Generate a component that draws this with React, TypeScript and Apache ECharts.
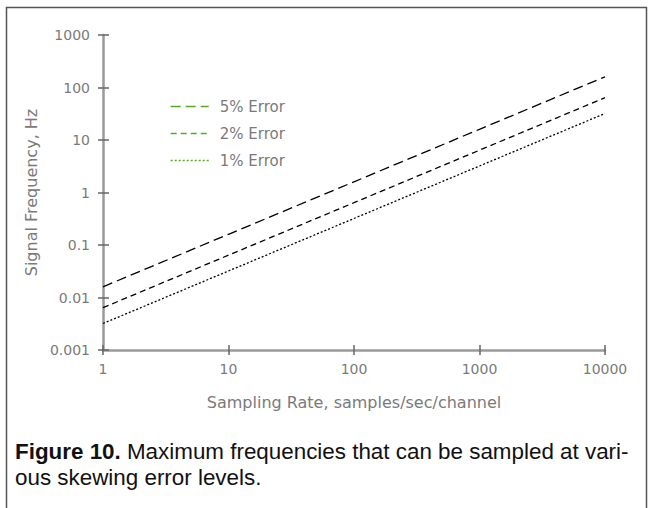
import React, { useEffect, useRef } from "react";
import * as echarts from "echarts";

const samplingRates = [1, 10, 100, 1000, 10000];
const error5 = [0.016, 0.16, 1.6, 16, 160];
const error2 = [0.0064, 0.064, 0.64, 6.4, 64];
const error1 = [0.0032, 0.032, 0.32, 3.2, 32];
const seriesNames = ["5% Error", "2% Error", "1% Error"];
const xTickLabels = ["1", "10", "100", "1000", "10000"];
const yTickLabels = ["0.001", "0.01", "0.1", "1", "10", "100", "1000"];
const captionBold = "Figure 10.";
const captionText = " Maximum frequencies that can be sampled at vari-\nous skewing error levels.";

const FONT = "'DejaVu Sans', Verdana, sans-serif";
const CAPTION_FONT = "'Liberation Sans', Arial, Helvetica, sans-serif";
const AXIS_GRAY = "#9a9a9a";
const LABEL_GRAY = "#7a7a7a";
const LEGEND_GREEN = "#5aaa1e";

function labelFor(list: string[], v: number) {
  const hit = list.find((s) => Math.abs(Math.log10(parseFloat(s)) - Math.log10(v)) < 1e-6);
  return hit ?? "";
}

export default function App() {
  const ref = useRef<HTMLDivElement>(null);
  useEffect(() => {
    if (!ref.current) return;
    const chart = echarts.init(ref.current, null, { renderer: "svg" });
    const pairs = (ys: number[]) => samplingRates.map((x, i) => [x, ys[i]]);
    const dashes = [[10, 5], [6, 4], [2, 2]];
    const datasets = [error5, error2, error1];
    const baseX = {
      type: "log" as const,
      logBase: 10,
      min: 1,
      max: 10000,
      gridIndex: 0,
      position: "bottom" as const,
      splitLine: { show: false },
    };
    const baseY = {
      type: "log" as const,
      logBase: 10,
      min: 0.001,
      max: 1000,
      gridIndex: 0,
      position: "left" as const,
      splitLine: { show: false },
    };
    const tickStyle = { color: "#666", width: 1.5 };
    chart.setOption({
      animation: false,
      backgroundColor: "#fff",
      grid: { left: 103, right: 43, top: 35, bottom: 158, containLabel: false },
      xAxis: [
        {
          ...baseX,
          name: "Sampling Rate, samples/sec/channel",
          nameLocation: "middle",
          nameGap: 44,
          nameTextStyle: { color: LABEL_GRAY, fontSize: 16, fontFamily: FONT },
          axisLine: { show: true, lineStyle: { color: AXIS_GRAY, width: 2.5 } },
          axisTick: { show: true, length: 5, lineStyle: tickStyle },
          axisLabel: {
            color: LABEL_GRAY,
            fontSize: 14,
            fontFamily: FONT,
            margin: 12,
            formatter: (v: number) => labelFor(xTickLabels, v),
          },
        },
        {
          ...baseX,
          axisLine: { show: false },
          axisTick: { show: true, inside: true, length: 5, lineStyle: tickStyle },
          axisLabel: { show: false },
        },
      ],
      yAxis: [
        {
          ...baseY,
          name: "Signal Frequency, Hz",
          nameLocation: "middle",
          nameGap: 58,
          nameRotate: 90,
          nameTextStyle: { color: LABEL_GRAY, fontSize: 16, fontFamily: FONT },
          axisLine: { show: true, lineStyle: { color: AXIS_GRAY, width: 2.5 } },
          axisTick: { show: true, length: 5, lineStyle: tickStyle },
          axisLabel: {
            color: LABEL_GRAY,
            fontSize: 14,
            fontFamily: FONT,
            margin: 13,
            formatter: (v: number) => labelFor(yTickLabels, v),
          },
        },
        {
          ...baseY,
          axisLine: { show: false },
          axisTick: { show: true, inside: true, length: 6, lineStyle: tickStyle },
          axisLabel: { show: false },
        },
      ],
      legend: {
        orient: "vertical",
        left: 165,
        top: 94,
        itemWidth: 38,
        itemHeight: 14,
        itemGap: 12,
        selectedMode: false,
        textStyle: { color: LABEL_GRAY, fontSize: 15, fontFamily: FONT, padding: [0, 0, 0, 6] },
        data: seriesNames.map((n, i) => ({
          name: n,
          itemStyle: { opacity: 0 },
          lineStyle: { color: LEGEND_GREEN, type: dashes[i], width: 1.4 },
        })),
      },
      series: datasets.map((d, i) => ({
        name: seriesNames[i],
        type: "line",
        xAxisIndex: 0,
        yAxisIndex: 0,
        data: pairs(d),
        symbol: "none",
        showSymbol: false,
        silent: true,
        lineStyle: { color: "#000", width: 1.3, type: dashes[i] },
      })),
      graphic: [
        {
          type: "rect",
          shape: { x: 6.5, y: 7.5, width: 640, height: 540 },
          style: { fill: "none", stroke: "#555", lineWidth: 1.5 },
          silent: true,
          z: -1,
        },
        {
          type: "text",
          left: 15,
          top: 438,
          style: {
            text: "{b|" + captionBold + "}" + captionText,
            fill: "#111",
            fontSize: 22.4,
            fontFamily: CAPTION_FONT,
            lineHeight: 26,
            rich: {
              b: { fontWeight: "bold", fontSize: 22.4, fontFamily: CAPTION_FONT, fill: "#111", lineHeight: 26 },
            },
          },
        },
      ],
    });
    return () => chart.dispose();
  }, []);
  return (
    <div
      ref={ref}
      style={{ position: "fixed", left: 0, top: 0, width: 648, height: 508, background: "#fff" }}
    />
  );
}
